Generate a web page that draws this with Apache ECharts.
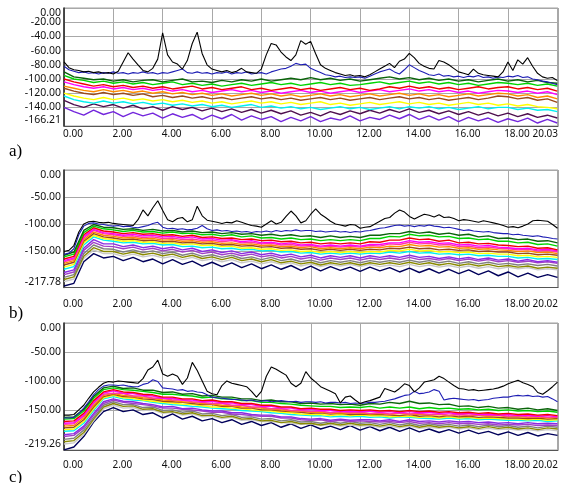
<!DOCTYPE html>
<html><head><meta charset="utf-8">
<script src="https://cdn.jsdelivr.net/npm/echarts@6/dist/echarts.min.js"></script>
<style>html,body{margin:0;padding:0;background:#fff}#c{width:561px;height:483px}</style>
</head><body><div id="c"></div>
<script>
// ---------- shared x positions ----------
const xFine = [0,0.2,0.4,0.6,0.8,1,1.2,1.4,1.6,1.8,2,2.2,2.4,2.6,2.8,3,3.2,3.4,3.6,3.8,4,4.2,4.4,4.6,4.8,5,5.2,5.4,5.6,5.8,6,6.2,6.4,6.6,6.8,7,7.2,7.4,7.6,7.8,8,8.2,8.4,8.6,8.8,9,9.2,9.4,9.6,9.8,10,10.2,10.4,10.6,10.8,11,11.2,11.4,11.6,11.8,12,12.2,12.4,12.6,12.8,13,13.2,13.4,13.6,13.8,14,14.2,14.4,14.6,14.8,15,15.2,15.4,15.6,15.8,16,16.2,16.4,16.6,16.8,17,17.2,17.4,17.6,17.8,18,18.2,18.4,18.6,18.8,19,19.2,19.4,19.6,19.8,20];
const xCoarse = [0,0.4,0.8,1.2,1.6,2,2.4,2.8,3.2,3.6,4,4.4,4.8,5.2,5.6,6,6.4,6.8,7.2,7.6,8,8.4,8.8,9.2,9.6,10,10.4,10.8,11.2,11.6,12,12.4,12.8,13.2,13.6,14,14.4,14.8,15.2,15.6,16,16.4,16.8,17.2,17.6,18,18.4,18.8,19.2,19.6,20];

// ---------- tick labels ----------
const xTicks = [0,2,4,6,8,10,12,14,16,18];
const xEndA = 20.03;
const xEndBC = 20.02;
const yTicksA = [-166.21,-140,-120,-100,-80,-60,-40,-20];
const yTicksB = [-217.78,-150,-100,-50];
const yTicksC = [-219.26,-150,-100,-50];
const yTop = 0;

// ---------- panel a ----------
const aBlack = [-76,-84,-87,-88,-90,-89,-91,-90,-92,-91,-93,-89,-76,-63,-72,-80,-88,-90,-85,-72,-35,-66,-76,-79,-86,-74,-50,-34,-64,-80,-86,-88,-90,-88,-91,-89,-85,-90,-91,-92,-86,-66,-50,-52,-62,-69,-74,-66,-46,-51,-47,-64,-80,-85,-88,-91,-93,-95,-94,-96,-95,-97,-94,-90,-86,-82,-78,-84,-75,-72,-64,-70,-78,-82,-85,-86,-74,-76,-80,-85,-90,-92,-94,-86,-92,-94,-95,-96,-97,-90,-76,-88,-73,-79,-70,-82,-92,-97,-99,-98,-102];
const aBlue = [-82,-87,-89,-91,-90,-92,-91,-93,-91,-92,-90,-92,-91,-93,-91,-92,-90,-92,-91,-93,-91,-92,-90,-88,-86,-91,-92,-90,-92,-91,-93,-91,-92,-90,-93,-91,-92,-90,-93,-92,-91,-93,-90,-88,-86,-85,-82,-78,-80,-79,-85,-88,-91,-94,-95,-97,-96,-98,-97,-98,-97,-99,-96,-93,-90,-88,-86,-90,-93,-87,-80,-84,-88,-91,-94,-95,-93,-96,-95,-97,-96,-98,-96,-97,-95,-98,-97,-99,-97,-98,-96,-97,-95,-98,-97,-100,-101,-103,-104,-106,-108];
const aDkGreen = [-90,-97,-99,-101,-100,-103,-101,-104,-102,-101,-104,-102,-100,-104,-103,-105,-102,-104,-101,-103,-100,-103,-101,-99,-101,-98,-101,-99,-102,-100,-103,-101,-99,-97,-100,-98,-101,-99,-102,-100,-103,-101,-104,-102,-100,-103,-101,-104,-102,-105,-106];
const aGreen = [-95,-100,-102,-105,-103,-106,-104,-107,-105,-108,-106,-104,-108,-106,-109,-107,-110,-108,-106,-109,-107,-105,-108,-106,-109,-107,-105,-108,-106,-109,-108,-106,-104,-107,-105,-103,-106,-104,-107,-105,-108,-106,-109,-107,-105,-106,-108,-106,-109,-107,-110];
const aRed = [-100,-104,-107,-110,-108,-111,-109,-112,-110,-113,-111,-114,-112,-110,-114,-112,-115,-113,-111,-115,-113,-116,-114,-112,-115,-113,-116,-114,-112,-115,-113,-116,-114,-111,-113,-110,-113,-111,-114,-112,-115,-113,-111,-114,-112,-111,-114,-112,-115,-113,-117];
const aMagenta = [-104,-108,-111,-113,-111,-114,-112,-115,-113,-116,-114,-117,-115,-118,-116,-119,-117,-115,-118,-116,-119,-117,-120,-118,-116,-119,-117,-120,-118,-116,-119,-117,-115,-118,-116,-114,-117,-115,-118,-116,-119,-117,-120,-118,-116,-117,-119,-117,-120,-118,-122];
const aOrange = [-110,-113,-116,-118,-115,-118,-116,-119,-117,-120,-118,-121,-119,-122,-120,-123,-121,-124,-122,-120,-123,-121,-124,-122,-125,-123,-121,-124,-122,-125,-123,-121,-124,-122,-120,-123,-121,-124,-122,-125,-123,-121,-124,-122,-120,-121,-124,-122,-126,-124,-128];
const aBrown = [-113,-117,-120,-122,-119,-122,-120,-123,-121,-125,-123,-126,-124,-127,-125,-128,-126,-129,-127,-125,-128,-126,-129,-127,-130,-128,-126,-129,-127,-130,-128,-126,-129,-127,-125,-128,-126,-129,-127,-130,-128,-126,-129,-127,-124,-125,-128,-126,-130,-128,-133];
const aYellow = [-120,-124,-127,-129,-126,-129,-127,-130,-128,-131,-129,-132,-130,-133,-131,-134,-132,-135,-133,-131,-134,-132,-135,-133,-136,-134,-132,-136,-134,-137,-135,-133,-136,-134,-132,-135,-133,-136,-134,-137,-135,-133,-136,-134,-137,-135,-138,-136,-139,-140,-142];
const aCyan = [-124,-129,-132,-134,-131,-134,-132,-135,-133,-136,-134,-137,-135,-138,-136,-139,-137,-140,-138,-136,-140,-138,-141,-139,-142,-140,-143,-141,-139,-142,-140,-143,-141,-139,-142,-139,-141,-139,-142,-140,-143,-141,-139,-142,-140,-140,-143,-141,-144,-143,-146];
const aMaroon = [-130,-136,-140,-135,-139,-136,-141,-137,-142,-139,-144,-139,-143,-140,-145,-141,-146,-142,-147,-143,-148,-144,-149,-145,-151,-147,-152,-146,-150,-145,-149,-144,-148,-143,-147,-142,-147,-144,-149,-145,-150,-146,-151,-147,-152,-148,-153,-149,-154,-151,-155];
const aPurple = [-140,-146,-151,-144,-150,-146,-153,-147,-152,-148,-155,-149,-154,-150,-157,-151,-156,-150,-158,-152,-157,-153,-160,-154,-159,-153,-160,-155,-158,-152,-159,-154,-157,-151,-156,-150,-157,-152,-158,-153,-160,-154,-159,-155,-161,-156,-160,-155,-162,-157,-162];

// ---------- panel b ----------
const bBlack = [-151,-149,-140,-115,-100,-96,-95,-97,-98,-97,-99,-100,-101,-102,-103,-92,-74,-85,-70,-57,-75,-92,-96,-90,-88,-96,-92,-67,-85,-93,-95,-97,-99,-97,-98,-94,-97,-100,-103,-104,-106,-100,-94,-100,-97,-86,-76,-85,-98,-94,-82,-72,-82,-88,-95,-100,-102,-104,-101,-102,-108,-106,-105,-100,-95,-90,-88,-80,-74,-78,-86,-91,-86,-82,-84,-87,-83,-88,-87,-90,-94,-92,-93,-95,-97,-94,-96,-98,-100,-103,-106,-105,-107,-104,-100,-94,-93,-94,-95,-101,-108];
const bBlue = [-156,-154,-146,-120,-104,-99,-98,-100,-101,-103,-104,-103,-105,-104,-106,-107,-105,-103,-99,-97,-106,-109,-108,-110,-109,-111,-110,-108,-103,-109,-112,-111,-113,-112,-114,-113,-115,-114,-116,-114,-115,-113,-115,-112,-114,-112,-113,-111,-113,-112,-112,-114,-113,-115,-114,-113,-115,-114,-116,-114,-115,-113,-112,-110,-108,-107,-105,-103,-102,-104,-103,-105,-103,-104,-102,-104,-105,-107,-106,-108,-110,-112,-111,-113,-114,-115,-114,-116,-117,-118,-118,-120,-119,-121,-122,-123,-122,-124,-125,-127,-128];
const bDkGreen = [-158,-152,-112,-101,-106,-107,-110,-109,-112,-110,-113,-112,-115,-113,-116,-115,-118,-116,-119,-118,-121,-119,-122,-120,-123,-122,-125,-122,-125,-123,-125,-121,-121,-118,-118,-114,-117,-115,-119,-117,-121,-119,-124,-122,-127,-126,-129,-128,-132,-131,-135];
const bGreen = [-161,-156,-116,-104,-109,-111,-114,-112,-115,-114,-117,-115,-118,-117,-120,-119,-122,-120,-124,-122,-126,-125,-128,-126,-129,-128,-131,-129,-131,-129,-131,-127,-127,-123,-124,-119,-122,-121,-124,-123,-127,-126,-129,-128,-132,-132,-135,-134,-138,-137,-141];
const bRed = [-165,-160,-120,-107,-113,-115,-118,-116,-119,-118,-121,-120,-123,-121,-125,-124,-127,-126,-129,-128,-131,-130,-133,-132,-135,-134,-137,-135,-137,-135,-137,-133,-134,-130,-130,-126,-129,-128,-132,-130,-135,-134,-137,-136,-139,-140,-142,-141,-145,-144,-148];
const bMagenta = [-168,-163,-123,-110,-116,-118,-121,-119,-122,-121,-124,-123,-126,-124,-128,-127,-130,-129,-133,-131,-135,-134,-137,-135,-139,-138,-141,-139,-141,-139,-141,-138,-138,-135,-135,-131,-134,-133,-136,-135,-139,-138,-141,-140,-143,-144,-146,-145,-148,-147,-150];
const bPink = [-170,-165,-126,-112,-118,-120,-123,-122,-125,-124,-127,-126,-129,-128,-131,-130,-133,-131,-135,-134,-137,-136,-139,-138,-141,-140,-143,-141,-143,-141,-143,-140,-141,-137,-138,-134,-137,-136,-139,-138,-142,-141,-144,-143,-145,-146,-148,-147,-150,-149,-152];
const bOrange = [-173,-168,-129,-115,-121,-123,-126,-125,-128,-127,-130,-129,-132,-131,-134,-133,-136,-135,-138,-137,-140,-139,-142,-141,-144,-142,-146,-144,-146,-144,-146,-143,-144,-141,-142,-138,-141,-140,-143,-142,-145,-144,-147,-146,-148,-149,-151,-150,-153,-152,-155];
const bBrown = [-176,-171,-132,-118,-124,-126,-129,-128,-131,-130,-133,-132,-135,-134,-137,-136,-139,-138,-141,-140,-143,-142,-145,-144,-147,-146,-149,-147,-149,-147,-149,-147,-148,-145,-146,-143,-146,-145,-148,-147,-149,-148,-151,-150,-152,-152,-155,-154,-157,-156,-158];
const bYellow = [-180,-175,-135,-121,-127,-129,-132,-131,-134,-133,-136,-135,-138,-137,-140,-139,-142,-141,-145,-144,-147,-146,-149,-148,-151,-150,-153,-151,-153,-151,-153,-151,-152,-149,-150,-147,-150,-149,-152,-151,-153,-152,-155,-154,-156,-156,-159,-158,-161,-160,-162];
const bCyan = [-184,-179,-139,-124,-130,-132,-135,-134,-137,-136,-139,-138,-142,-141,-144,-143,-146,-145,-148,-147,-150,-149,-152,-151,-154,-153,-156,-154,-156,-154,-156,-154,-155,-152,-154,-151,-154,-153,-156,-155,-157,-156,-159,-158,-160,-160,-163,-162,-165,-164,-166];
const bPurple = [-190,-185,-145,-129,-137,-137,-142,-139,-144,-141,-146,-143,-148,-145,-151,-148,-153,-150,-155,-152,-157,-154,-159,-156,-161,-158,-163,-159,-162,-159,-163,-159,-162,-159,-162,-158,-162,-160,-164,-161,-165,-162,-166,-163,-167,-165,-169,-166,-170,-168,-171];
const bViolet = [-194,-189,-149,-134,-141,-142,-146,-143,-148,-145,-150,-147,-152,-149,-155,-152,-157,-154,-159,-156,-161,-158,-163,-160,-165,-162,-167,-163,-166,-163,-167,-163,-166,-163,-166,-162,-166,-164,-167,-164,-168,-165,-169,-166,-170,-168,-171,-169,-172,-170,-173];
const bGray = [-199,-194,-155,-139,-146,-147,-152,-148,-153,-150,-155,-152,-158,-154,-160,-157,-162,-158,-164,-161,-166,-162,-168,-165,-170,-167,-172,-168,-171,-168,-172,-168,-171,-168,-171,-167,-171,-168,-172,-169,-173,-170,-174,-171,-175,-173,-176,-174,-177,-175,-178];
const bOlive = [-203,-198,-160,-144,-151,-151,-156,-152,-157,-154,-159,-156,-162,-158,-164,-161,-166,-162,-168,-165,-170,-166,-172,-169,-174,-171,-176,-172,-175,-172,-176,-172,-175,-172,-175,-171,-175,-172,-176,-173,-177,-174,-178,-175,-179,-177,-180,-178,-182,-180,-182];
const bSilver = [-207,-202,-164,-148,-155,-155,-160,-156,-161,-158,-163,-160,-166,-162,-168,-165,-170,-166,-172,-169,-174,-170,-175,-172,-178,-174,-179,-175,-178,-175,-179,-175,-179,-176,-179,-175,-179,-176,-180,-177,-181,-178,-182,-179,-183,-180,-183,-181,-185,-183,-185];
const bNavy = [-215,-210,-170,-155,-163,-160,-168,-162,-170,-165,-174,-166,-175,-169,-178,-171,-179,-172,-181,-174,-183,-176,-184,-177,-186,-178,-187,-179,-186,-180,-188,-180,-187,-181,-189,-182,-190,-183,-191,-184,-192,-185,-194,-187,-196,-189,-198,-191,-199,-194,-199];

// ---------- panel c ----------
const cBlack = [-159,-159,-158,-150,-142,-130,-119,-111,-104,-101,-102,-100,-101,-102,-103,-104,-96,-81,-76,-64,-88,-92,-88,-92,-106,-95,-68,-82,-100,-118,-122,-124,-108,-100,-104,-106,-108,-110,-118,-128,-118,-92,-76,-80,-85,-90,-104,-110,-104,-84,-95,-102,-110,-114,-118,-122,-138,-128,-126,-133,-139,-136,-134,-131,-128,-113,-116,-119,-113,-105,-108,-119,-112,-102,-100,-98,-92,-96,-102,-108,-113,-114,-116,-115,-117,-116,-115,-114,-112,-109,-105,-102,-99,-103,-106,-110,-120,-123,-117,-110,-102];
const cBlue = [-164,-164,-163,-156,-147,-136,-124,-115,-109,-107,-107,-108,-107,-109,-110,-110,-106,-104,-98,-101,-112,-113,-114,-116,-115,-118,-117,-119,-120,-124,-128,-129,-130,-131,-132,-132,-133,-134,-133,-135,-135,-134,-136,-135,-134,-135,-136,-135,-137,-136,-136,-137,-136,-138,-137,-137,-138,-137,-139,-138,-139,-138,-137,-137,-136,-135,-133,-131,-128,-125,-124,-118,-122,-121,-119,-115,-118,-133,-131,-130,-131,-132,-133,-132,-134,-133,-132,-130,-129,-128,-128,-126,-125,-126,-125,-127,-126,-128,-127,-131,-136];
const cDkGreen = [-163,-162,-149,-127,-112,-109,-113,-112,-116,-116,-120,-119,-123,-122,-126,-125,-128,-128,-131,-131,-134,-133,-136,-136,-139,-138,-140,-139,-141,-140,-142,-139,-140,-137,-139,-135,-139,-138,-141,-140,-144,-143,-146,-144,-147,-146,-149,-147,-150,-148,-151];
const cGreen = [-166,-165,-152,-130,-115,-112,-115,-116,-118,-120,-123,-123,-125,-126,-129,-128,-131,-131,-134,-134,-137,-137,-139,-140,-142,-143,-144,-144,-146,-145,-146,-144,-147,-145,-147,-145,-148,-146,-148,-147,-149,-148,-150,-149,-151,-150,-152,-151,-153,-152,-154];
const cRed = [-170,-169,-156,-134,-119,-115,-119,-120,-123,-124,-128,-128,-131,-131,-134,-133,-136,-136,-139,-139,-142,-142,-145,-145,-148,-147,-149,-149,-151,-150,-151,-150,-152,-151,-153,-151,-153,-152,-154,-153,-155,-154,-156,-155,-157,-156,-158,-157,-159,-158,-160];
const cMagenta = [-173,-172,-159,-137,-121,-117,-121,-122,-125,-126,-130,-130,-133,-133,-136,-135,-138,-138,-141,-141,-144,-144,-147,-147,-150,-149,-151,-151,-153,-152,-153,-152,-154,-153,-155,-153,-155,-154,-156,-155,-157,-156,-158,-157,-159,-158,-160,-159,-161,-160,-162];
const cPink = [-175,-174,-161,-139,-123,-121,-122,-126,-126,-130,-130,-133,-133,-136,-137,-139,-139,-142,-142,-145,-145,-148,-148,-151,-151,-153,-152,-155,-153,-155,-154,-156,-155,-157,-155,-157,-156,-158,-157,-159,-158,-159,-158,-160,-159,-161,-160,-162,-161,-163,-162];
const cOrange = [-178,-177,-164,-142,-125,-122,-125,-127,-129,-130,-133,-134,-136,-137,-139,-140,-142,-143,-145,-146,-147,-149,-150,-152,-152,-154,-154,-156,-155,-156,-155,-157,-156,-158,-156,-158,-157,-159,-158,-160,-158,-160,-159,-161,-160,-162,-161,-163,-162,-164,-163];
const cBrown = [-181,-180,-167,-145,-127,-123,-127,-128,-131,-132,-135,-136,-137,-139,-141,-141,-144,-144,-147,-147,-150,-150,-152,-153,-154,-156,-155,-157,-156,-158,-157,-158,-158,-159,-160,-158,-161,-160,-162,-160,-162,-161,-163,-162,-163,-164,-164,-165,-164,-166,-165];
const cYellow = [-184,-183,-170,-148,-129,-125,-129,-130,-133,-135,-137,-138,-140,-141,-143,-145,-145,-147,-148,-150,-151,-152,-154,-155,-157,-158,-158,-160,-158,-160,-159,-160,-160,-162,-161,-161,-163,-162,-164,-162,-164,-163,-165,-164,-165,-166,-166,-167,-166,-168,-167];
const cCyan = [-187,-186,-173,-151,-131,-127,-131,-133,-134,-137,-139,-141,-142,-144,-145,-147,-148,-149,-151,-152,-153,-155,-156,-158,-159,-160,-160,-162,-161,-162,-161,-163,-162,-164,-162,-163,-164,-165,-166,-164,-166,-165,-167,-166,-167,-168,-168,-169,-168,-170,-169];
const cPurple = [-193,-191,-178,-156,-136,-131,-135,-136,-139,-141,-145,-144,-148,-147,-150,-152,-152,-155,-155,-158,-159,-159,-162,-162,-165,-166,-165,-168,-166,-168,-167,-167,-169,-167,-170,-167,-170,-169,-171,-169,-171,-170,-172,-171,-173,-172,-174,-172,-174,-173,-174];
const cViolet = [-196,-194,-181,-159,-139,-133,-137,-139,-141,-143,-147,-147,-149,-150,-152,-154,-154,-157,-158,-160,-161,-161,-164,-164,-167,-168,-167,-170,-168,-170,-169,-170,-171,-170,-172,-170,-173,-172,-174,-172,-174,-173,-175,-174,-176,-175,-176,-175,-177,-176,-177];
const cGray = [-201,-199,-185,-163,-142,-136,-141,-141,-146,-145,-151,-150,-154,-152,-157,-156,-160,-158,-163,-162,-166,-165,-169,-167,-171,-170,-173,-170,-173,-170,-173,-172,-175,-172,-176,-173,-177,-174,-177,-175,-178,-176,-179,-176,-179,-177,-180,-178,-181,-178,-180];
const cOlive = [-205,-203,-189,-166,-145,-139,-144,-143,-149,-148,-154,-153,-157,-155,-160,-159,-163,-161,-166,-165,-169,-168,-172,-170,-174,-173,-176,-173,-176,-173,-176,-175,-178,-175,-179,-176,-180,-177,-180,-178,-181,-179,-182,-179,-182,-180,-183,-181,-184,-181,-183];
const cSilver = [-209,-207,-192,-169,-148,-142,-147,-146,-151,-150,-156,-154,-159,-157,-162,-161,-165,-163,-168,-167,-170,-170,-172,-173,-175,-174,-177,-175,-178,-176,-178,-177,-180,-178,-181,-178,-182,-180,-182,-180,-183,-181,-184,-182,-184,-183,-185,-184,-186,-184,-186];
const cNavy = [-219,-214,-196,-171,-153,-146,-153,-150,-158,-155,-164,-157,-166,-161,-169,-165,-172,-167,-175,-170,-177,-172,-180,-174,-182,-176,-183,-178,-184,-177,-185,-179,-186,-180,-187,-181,-188,-183,-189,-184,-190,-185,-191,-187,-193,-188,-194,-189,-195,-191,-194];

// ---------- styling / assembly ----------
const COL = {black:'#000000', blue:'#1e1eb4', dkgreen:'#0a640a', green:'#00d400', red:'#f00000', magenta:'#ff00ff', pink:'#ff3c9c', orange:'#ff8c00', brown:'#9a4a1c', yellow:'#ffff00', cyan:'#00f0f0', maroon:'#4e0f4e', purple:'#7326dc', purple2:'#8a2be2', violet:'#a040c8', gray:'#808080', olive:'#8a8a00', silver:'#c8c8c8', navy:'#00005a'};

const panels = [
  {top:8, height:118, xMax:xEndA, yMin:-166.21, yTicks:yTicksA, xMargin:3, tag:'a)', tagTop:143,
   lines:[[xCoarse,aPurple,COL.purple],[xCoarse,aMaroon,COL.maroon],[xCoarse,aCyan,COL.cyan],[xCoarse,aYellow,COL.yellow],[xCoarse,aBrown,COL.brown],[xCoarse,aOrange,COL.orange],[xCoarse,aMagenta,COL.magenta],[xCoarse,aRed,COL.red],[xCoarse,aGreen,COL.green],[xCoarse,aDkGreen,COL.dkgreen],[xFine,aBlue,COL.blue],[xFine,aBlack,COL.black]]},
  {top:170, height:117.5, xMax:xEndBC, yMin:-217.78, yTicks:yTicksB, xMargin:12, tag:'b)', tagTop:305,
   lines:[[xCoarse,bNavy,COL.navy],[xCoarse,bSilver,COL.silver],[xCoarse,bOlive,COL.olive],[xCoarse,bGray,COL.gray],[xCoarse,bViolet,COL.violet],[xCoarse,bPurple,COL.purple2],[xCoarse,bCyan,COL.cyan],[xCoarse,bYellow,COL.yellow],[xCoarse,bBrown,COL.brown],[xCoarse,bOrange,COL.orange],[xCoarse,bPink,COL.pink],[xCoarse,bMagenta,COL.magenta],[xCoarse,bRed,COL.red],[xCoarse,bGreen,COL.green],[xCoarse,bDkGreen,COL.dkgreen],[xFine,bBlue,COL.blue],[xFine,bBlack,COL.black]]},
  {top:323, height:127, xMax:xEndBC, yMin:-219.26, yTicks:yTicksC, xMargin:10, tag:'c)', tagTop:469,
   lines:[[xCoarse,cNavy,COL.navy],[xCoarse,cSilver,COL.silver],[xCoarse,cOlive,COL.olive],[xCoarse,cGray,COL.gray],[xCoarse,cViolet,COL.violet],[xCoarse,cPurple,COL.purple2],[xCoarse,cCyan,COL.cyan],[xCoarse,cYellow,COL.yellow],[xCoarse,cBrown,COL.brown],[xCoarse,cOrange,COL.orange],[xCoarse,cPink,COL.pink],[xCoarse,cMagenta,COL.magenta],[xCoarse,cRed,COL.red],[xCoarse,cGreen,COL.green],[xCoarse,cDkGreen,COL.dkgreen],[xFine,cBlue,COL.blue],[xFine,cBlack,COL.black]]}
];

const FONT = '"Noto Sans", "Open Sans", sans-serif';
const lblX = {hideOverlap:false, fontSize:10, color:'#111', fontFamily:FONT, formatter:v => v.toFixed(2)};
const lblY = {hideOverlap:false, fontSize:10.5, color:'#111', fontFamily:FONT, formatter:v => v.toFixed(2)};
const grid = [], xAxis = [], xAxisEnd = [], yAxis = [], yAxisTop = [], series = [], graphic = [];
panels.forEach((p, k) => {
  grid.push({left:64, width:495, top:p.top, height:p.height, show:true, borderColor:'#a0a0a0', borderWidth:1, backgroundColor:'#ffffff'});
  xAxis.push({type:'value', gridIndex:k, min:0, max:p.xMax, interval:2, position:'bottom',
    axisLine:{show:true, onZero:false, lineStyle:{color:'#555', width:1}},
    axisTick:{show:false},
    axisLabel:Object.assign({customValues:xTicks, align:'center', padding:[0,0,0,18], showMinLabel:true, margin:p.xMargin}, lblX),
    splitLine:{show:true, lineStyle:{color:'#a8a8a8', width:1}}});
  // second axis in the same grid carrying only the end label, right-aligned
  xAxisEnd.push({type:'value', gridIndex:k, min:0, max:p.xMax, position:'bottom', offset:0,
    axisLine:{show:false}, axisTick:{show:false}, splitLine:{show:false},
    axisLabel:Object.assign({customValues:[p.xMax], align:'right', showMaxLabel:true, margin:p.xMargin}, lblX)});
  yAxis.push({type:'value', gridIndex:k, min:p.yMin, max:0, position:'left',
    axisLine:{show:true, onZero:false, lineStyle:{color:'#222', width:1.5}},
    axisTick:{show:false, customValues:p.yTicks.concat([yTop])},
    axisLabel:Object.assign({customValues:p.yTicks, showMinLabel:true, margin:3, verticalAlignMinLabel:'bottom'}, lblY),
    splitLine:{show:true, lineStyle:{color:'#a8a8a8', width:1}}});
  // second y axis carrying only the top label, top-aligned
  yAxisTop.push({type:'value', gridIndex:k, min:p.yMin, max:0, position:'left', offset:0,
    axisLine:{show:false}, axisTick:{show:false}, splitLine:{show:false},
    axisLabel:Object.assign({customValues:[yTop], showMaxLabel:true, margin:3, verticalAlign:'top'}, lblY)});
  p.lines.forEach(([xs, ys, color]) => {
    const w = (xs === xFine) ? 1.1 : 1.4;
    series.push({type:'line', xAxisIndex:k, yAxisIndex:k, showSymbol:false, symbol:'none', silent:true,
      data: ys.map((y, i) => [xs[i], y]), lineStyle:{color, width:w}, itemStyle:{color}});
  });
  graphic.push({type:'text', left:9, top:p.tagTop, style:{text:p.tag, font:'17px "Liberation Serif", "Times New Roman", serif', fill:'#000'}});
});

const chart = echarts.init(document.getElementById('c'), null, {renderer:'canvas'});
chart.setOption({animation:false, backgroundColor:'#ffffff', grid, xAxis: xAxis.concat(xAxisEnd), yAxis: yAxis.concat(yAxisTop), series, graphic});
</script>
</body></html>
